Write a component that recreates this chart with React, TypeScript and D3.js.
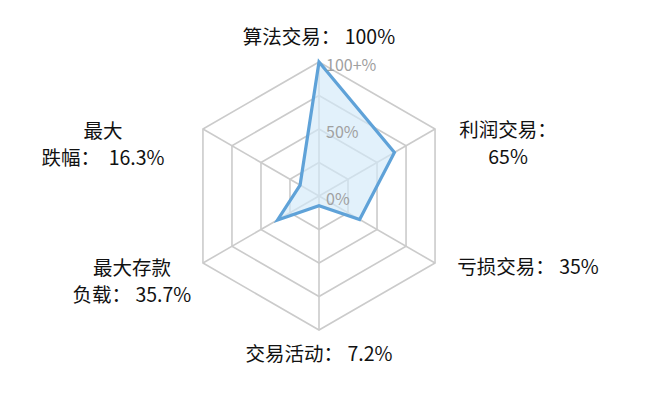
import { useEffect, useRef } from 'react';
import * as d3 from 'd3';

const categories = ['算法交易', '利润交易', '亏损交易', '交易活动', '最大存款负载', '最大跌幅'];
const values = [100, 65, 35, 7.2, 35.7, 16.3];
const labelLines = [
  ['算法交易： 100%'],
  ['利润交易：', '65%'],
  ['亏损交易： 35%'],
  ['交易活动： 7.2%'],
  ['最大存款', '负载： 35.7%'],
  ['最大', '跌幅：  16.3%'],
];
const gridLevels = [25, 50, 75, 100];
const tickValues = [0, 50, 100];
const tickLabels = ['0%', '50%', '100+%'];

// label offsets from each outer vertex (first line centre)
const labelOffsets = [
  { dx: 0, dy: -27 },
  { dx: 73, dy: -1 },
  { dx: 93, dy: 2 },
  { dx: 0, dy: 22 },
  { dx: -71, dy: 3 },
  { dx: -100, dy: 0 },
];

const WIDTH = 648;
const HEIGHT = 404;
const FONT = '"Noto Sans CJK SC", "Noto Sans", sans-serif';
const LINE_STEP = 27.5;

export default function App() {
  const ref = useRef<SVGSVGElement | null>(null);

  useEffect(() => {
    document.body.style.margin = '0';
    if (!ref.current) return;
    const svg = d3.select(ref.current);
    svg.selectAll('*').remove();

    const cx = 319;
    const cy = 196;
    const R = 134;

    const r = d3.scaleLinear().domain([0, 100]).range([0, R]);
    const angle = d3
      .scaleLinear()
      .domain([0, categories.length])
      .range([0, 2 * Math.PI]);

    const g = svg.append('g').attr('transform', `translate(${cx}, ${cy})`);

    const point = (i: number, v: number): [number, number] => {
      const a = angle(i);
      return [Math.sin(a) * r(v), -Math.cos(a) * r(v)];
    };

    const radial = d3
      .lineRadial<number>()
      .angle((_, i) => angle(i))
      .radius((d) => r(d))
      .curve(d3.curveLinearClosed);

    // grid rings
    gridLevels.forEach((lvl) => {
      g.append('path')
        .attr('d', radial(categories.map(() => lvl)))
        .attr('fill', 'none')
        .attr('stroke', '#cbcbcb')
        .attr('stroke-width', 1.6);
    });

    // spokes
    categories.forEach((_, i) => {
      const [x, y] = point(i, 100);
      g.append('line')
        .attr('x1', 0)
        .attr('y1', 0)
        .attr('x2', x)
        .attr('y2', y)
        .attr('stroke', '#cbcbcb')
        .attr('stroke-width', 1.6);
    });

    // data
    g.append('path')
      .attr('d', radial(values))
      .attr('fill', '#d2eaf9')
      .attr('fill-opacity', 0.65)
      .attr('stroke', '#5fa2d8')
      .attr('stroke-width', 3.2)
      .attr('stroke-linejoin', 'miter');

    // tick labels
    tickValues.forEach((t, i) => {
      g.append('text')
        .attr('x', 7)
        .attr('y', -r(t) + 2)
        .attr('dominant-baseline', 'central')
        .style('font-family', FONT)
        .style('font-size', '16px')
        .attr('fill', '#a0a0a0')
        .text(tickLabels[i]);
    });

    // category labels
    labelLines.forEach((lines, i) => {
      const [x, y] = point(i, 100);
      const off = labelOffsets[i];
      lines.forEach((line, j) => {
        g.append('text')
          .attr('x', x + off.dx)
          .attr('y', y + off.dy + j * LINE_STEP)
          .attr('text-anchor', 'middle')
          .attr('dominant-baseline', 'central')
          .style('font-family', FONT)
          .style('font-size', '19.5px')
          .style('white-space', 'pre')
          .attr('fill', '#111')
          .text(line);
      });
    });
  }, []);

  return <svg ref={ref} width={WIDTH} height={HEIGHT} style={{ display: 'block', background: '#fff' }} />;
}
